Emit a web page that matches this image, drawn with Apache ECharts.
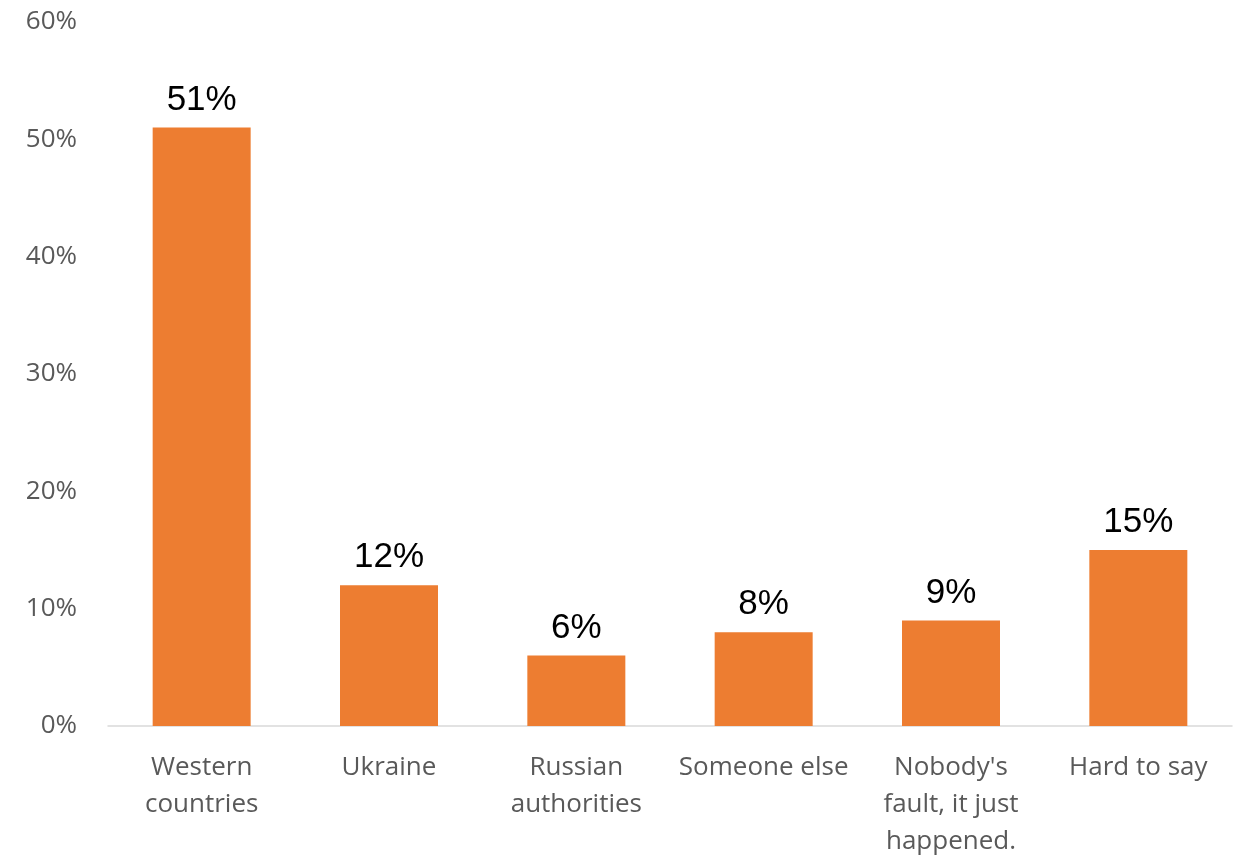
<!DOCTYPE html>
<html>
<head>
<meta charset="utf-8">
<script src="https://cdn.jsdelivr.net/npm/echarts@6/dist/echarts.min.js"></script>
<style>
  html, body { margin: 0; padding: 0; background: #fff; }
  #chart { width: 1240px; height: 861px; }
</style>
</head>
<body>
<div id="chart"></div>
<script>
const categories = [
  'Western\ncountries',
  'Ukraine',
  'Russian\nauthorities',
  'Someone else',
  "Nobody's\nfault, it just\nhappened.",
  'Hard to say',
]
const values = [51, 12, 6, 8, 9, 15]
const yTicks = [0, 10, 20, 30, 40, 50, 60]

const chart = echarts.init(document.getElementById('chart'))

chart.setOption({
  animation: false,
  grid: { left: 108, right: 8, top: 22, bottom: 135 },
  xAxis: {
    type: 'category',
    data: categories,
    axisLine: { lineStyle: { color: '#d9d9d9', width: 1.5 } },
    axisTick: { show: false },
    axisLabel: {
      color: '#595959',
      fontFamily: 'Open Sans',
      fontSize: 26,
      lineHeight: 37,
      margin: 23,
      interval: 0,
    },
  },
  yAxis: {
    type: 'value',
    min: yTicks[0],
    max: yTicks[yTicks.length - 1],
    interval: 10,
    axisLine: { show: false },
    axisTick: { show: false },
    splitLine: { show: false },
    axisLabel: {
      color: '#595959',
      fontFamily: 'Open Sans',
      fontSize: 26,
      margin: 31,
      formatter: v => v + '%',
    },
  },
  series: [
    {
      type: 'bar',
      data: values,
      barWidth: 98,
      itemStyle: { color: '#ed7d31' },
      label: {
        show: true,
        position: 'top',
        distance: 10,
        color: '#000',
        fontFamily: 'Liberation Sans',
        fontSize: 35,
        formatter: p => p.value + '%',
      },
    },
  ],
})
</script>
</body>
</html>
